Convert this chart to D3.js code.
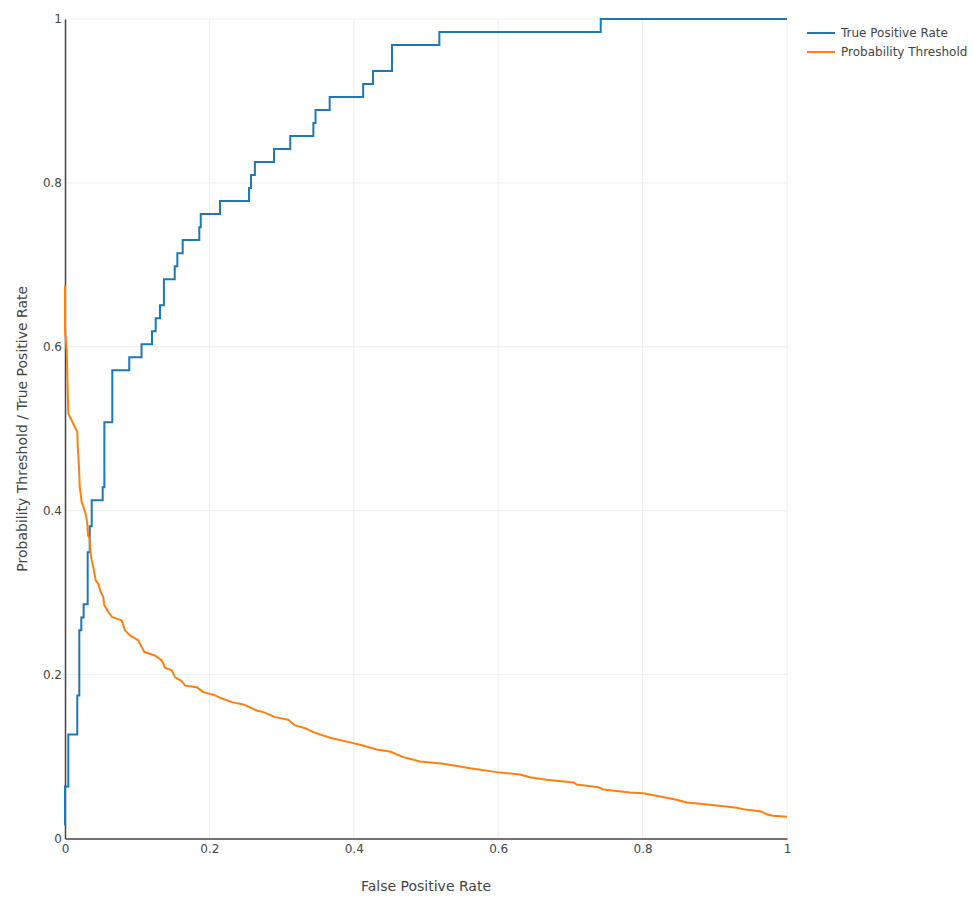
<!DOCTYPE html>
<html>
<head>
<meta charset="utf-8">
<script src="https://cdn.jsdelivr.net/npm/d3@7"></script>
<style>
  html, body { margin: 0; padding: 0; background: #fff; }
  svg { display: block; }
  text { font-family: "DejaVu Sans", Verdana, sans-serif; fill: #444; }
</style>
</head>
<body>
<svg id="chart" width="973" height="899"></svg>
<script>
// ---- Data ----
const seriesNames = ["True Positive Rate", "Probability Threshold"];
const seriesColors = ["#1f77b4", "#ff7f0e"];

// ROC curve corner points (FPR at which TPR rises, new TPR)
const rocFpr = [0, 0.0046, 0.0170, 0.0198, 0.0226, 0.0258, 0.0314, 0.0342, 0.0370, 0.0522,
  0.0545, 0.0655, 0.089, 0.106, 0.1205, 0.1256, 0.1316, 0.137, 0.152, 0.1556,
  0.163, 0.186, 0.188, 0.2147, 0.2549, 0.2576, 0.263, 0.2895, 0.312, 0.344,
  0.347, 0.3666, 0.413, 0.4266, 0.4529, 0.5185, 0.742, 1];
const rocTpr = [0.0635, 0.1270, 0.1746, 0.2540, 0.2698, 0.2857, 0.3492, 0.3810, 0.4127, 0.4286,
  0.5079, 0.5714, 0.5873, 0.6032, 0.6190, 0.6349, 0.6508, 0.6825, 0.6984, 0.7143,
  0.7302, 0.7460, 0.7619, 0.7778, 0.7937, 0.8095, 0.8254, 0.8413, 0.8571, 0.8730,
  0.8889, 0.9048, 0.9206, 0.9365, 0.9683, 0.9841, 1, 1];
const rocStart = [0, 0.0159];

// Probability threshold vs FPR
const thrFpr = [0, 0, 0.0024, 0.0046, 0.0170, 0.0176, 0.0194, 0.0204, 0.0231, 0.0263,
  0.0291, 0.0309, 0.0319, 0.0342, 0.0350, 0.0370, 0.0392, 0.0425, 0.0461, 0.0494,
  0.0530, 0.0544, 0.0600, 0.0655, 0.0785, 0.0831, 0.0900, 0.1015, 0.1098, 0.1247,
  0.1339, 0.1385, 0.1478, 0.1524, 0.1616, 0.1662, 0.1824, 0.1916, 0.2054, 0.2147,
  0.2309, 0.2470, 0.2655, 0.2747, 0.2909, 0.3093, 0.3186, 0.3348, 0.3439, 0.3670,
  0.3993, 0.4086, 0.4317, 0.4501, 0.4686, 0.4917, 0.5240, 0.5609, 0.5979, 0.6302,
  0.6440, 0.6672, 0.7040, 0.7087, 0.7386, 0.7456, 0.7825, 0.8010, 0.8472, 0.8611,
  0.8934, 0.9303, 0.9395, 0.9626, 0.9741, 0.9810, 1];
const thrVal = [0.675, 0.620, 0.596, 0.5186, 0.496, 0.478, 0.4534, 0.429, 0.4106, 0.4026,
  0.3944, 0.3843, 0.370, 0.366, 0.3516, 0.3394, 0.3313, 0.315, 0.311, 0.3007,
  0.2946, 0.2845, 0.2763, 0.2702, 0.2662, 0.254, 0.2479, 0.2418, 0.2275, 0.2234,
  0.2173, 0.2084, 0.2051, 0.1969, 0.1921, 0.1868, 0.1847, 0.1786, 0.1755, 0.1718,
  0.1664, 0.1636, 0.1563, 0.1542, 0.1481, 0.1449, 0.1380, 0.1339, 0.1298, 0.1230,
  0.1164, 0.1144, 0.1087, 0.1062, 0.0993, 0.0940, 0.0912, 0.0858, 0.0810, 0.0781,
  0.0748, 0.0717, 0.0684, 0.0659, 0.0626, 0.0598, 0.0562, 0.0553, 0.0473, 0.0440,
  0.0411, 0.0375, 0.0358, 0.0333, 0.0289, 0.0277, 0.0265];

const xTicks = [0, 0.2, 0.4, 0.6, 0.8, 1];
const yTicks = [0, 0.2, 0.4, 0.6, 0.8, 1];
const xTitle = "False Positive Rate";
const yTitle = "Probability Threshold / True Positive Rate";

// ---- Layout ----
const svg = d3.select("#chart");
const L = 65, R = 787, T = 19, B = 838.5;
const x = d3.scaleLinear().domain([0, 1]).range([L, R]);
const y = d3.scaleLinear().domain([0, 1]).range([B, T]);

// grid
const grid = svg.append("g");
grid.selectAll("line.gx").data(xTicks.slice(1)).join("line")
  .attr("x1", d => x(d)).attr("x2", d => x(d)).attr("y1", T).attr("y2", B)
  .attr("stroke", "#eee").attr("stroke-width", 1);
grid.selectAll("line.gy").data(yTicks.slice(1)).join("line")
  .attr("x1", L).attr("x2", R).attr("y1", d => y(d)).attr("y2", d => y(d))
  .attr("stroke", "#eee").attr("stroke-width", 1);

// axes
const xAxis = svg.append("g").attr("transform", `translate(0,${B})`)
  .call(d3.axisBottom(x).tickValues(xTicks).tickSize(0).tickPadding(3).tickFormat(d3.format("~g")));
const yAxis = svg.append("g").attr("transform", `translate(${L},0)`)
  .call(d3.axisLeft(y).tickValues(yTicks).tickSize(0).tickPadding(3).tickFormat(d3.format("~g")));
[xAxis, yAxis].forEach(a => {
  a.select(".domain").attr("stroke", "#444").attr("stroke-width", 1.5);
  a.selectAll("text").attr("font-family", "DejaVu Sans, Verdana, sans-serif")
    .attr("font-size", 12).attr("fill", "#444");
});
xAxis.selectAll("text").attr("dy", "0.95em");

// lines
const rocPts = [rocStart].concat(rocFpr.map((f, i) => [f, rocTpr[i]]));
const thrPts = thrFpr.map((f, i) => [f, thrVal[i]]);
const stepLine = d3.line().x(d => x(d[0])).y(d => y(d[1])).curve(d3.curveStepAfter);

svg.append("path").datum(rocPts).attr("d", stepLine)
  .attr("fill", "none").attr("stroke", seriesColors[0]).attr("stroke-width", 2);
svg.append("path").datum(thrPts).attr("d", d3.line().x(d => x(d[0])).y(d => y(d[1])))
  .attr("fill", "none").attr("stroke", seriesColors[1]).attr("stroke-width", 2)
  .attr("stroke-linejoin", "round");

// titles
svg.append("text").attr("x", (L + R) / 2).attr("y", 891).attr("text-anchor", "middle")
  .attr("font-size", 14).text(xTitle);
svg.append("text").attr("transform", `translate(27,${(T + B) / 2}) rotate(-90)`)
  .attr("text-anchor", "middle").attr("font-size", 14).text(yTitle);

// legend
const lg = svg.append("g");
seriesNames.forEach((n, i) => {
  const yy = 33 + i * 19;
  lg.append("line").attr("x1", 807).attr("x2", 835).attr("y1", yy).attr("y2", yy)
    .attr("stroke", seriesColors[i]).attr("stroke-width", 2);
  lg.append("text").attr("x", 841).attr("y", yy).attr("dy", "0.35em")
    .attr("font-size", 12).text(n);
});
</script>
</body>
</html>
